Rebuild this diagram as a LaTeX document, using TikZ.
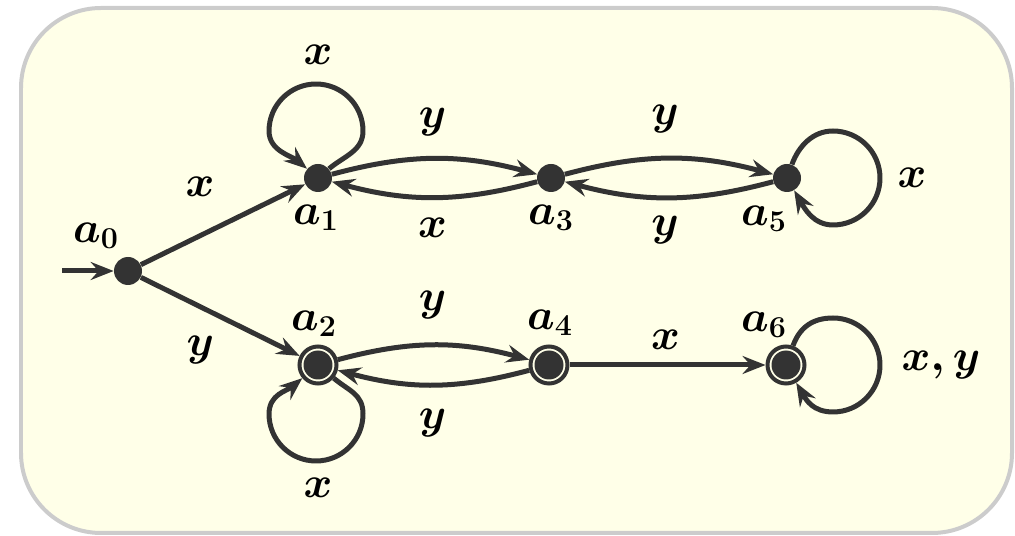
\documentclass[tikz,border=0pt]{standalone}
\usetikzlibrary{arrows.meta}
\definecolor{dk}{HTML}{333333}
\definecolor{bgfill}{HTML}{FFFFE8}
\definecolor{bgline}{HTML}{CCCCCC}
\begin{document}
\begin{tikzpicture}[x=0.02cm,y=-0.02cm,
  st/.style={circle, fill=dk, inner sep=0pt, minimum size=0.56cm},
  acc/.style={circle, draw=dk, fill=bgfill, line width=0.08cm, inner sep=0pt, minimum size=0.74cm,
    path picture={\fill[dk] (path picture bounding box.center) circle (0.29cm);}},
  lbl/.style={font=\fontsize{27}{32}\selectfont\boldmath, inner sep=0pt, text=black},
  tr/.style={draw=dk, line width=0.1cm, line join=round, -{Stealth[length=0.46cm,width=0.36cm,inset=0.16cm]}},
  neck/.style={out distance=0.4cm,in distance=0.4cm}
]
\useasboundingbox (0,0) rectangle (1015,536);
\draw[draw=bgline, fill=bgfill, line width=0.08cm, rounded corners=1.6cm] (21,8) rectangle (1012,533);

\node[st]  (a0) at (128,271) {};
\node[st]  (a1) at (318,178) {};
\node[st]  (a3) at (551,178) {};
\node[st]  (a5) at (787,178) {};
\node[acc] (a2) at (318,365) {};
\node[acc] (a4) at (549,365) {};
\node[acc] (a6) at (786,365) {};

% points where the self loops join their round part
\coordinate (r1) at (363,131);
\coordinate (r2) at (363,414);
\coordinate (u5) at (833,131);
\coordinate (u6) at (833,318);

\node[lbl] (l0) at ([shift={(-32,-35)}]a0.center) {$a_0$};
\node[lbl] (l1) at ([shift={(-2,40)}]a1.center) {$a_1$};
\node[lbl] (l3) at ([shift={(0,40)}]a3.center) {$a_3$};
\node[lbl] (l5) at ([shift={(-23,41)}]a5.center) {$a_5$};
\node[lbl] (l2) at ([shift={(-4,-41)}]a2.center) {$a_2$};
\node[lbl] (l4) at ([shift={(1,-42)}]a4.center) {$a_4$};
\node[lbl] (l6) at ([shift={(-22,-40)}]a6.center) {$a_6$};

\coordinate (s0) at (62,271);
\draw[tr] (s0) -- (a0);

\draw[tr] (a0) -- node[lbl,shift={(-23,-37.5)}] (e1) {$x$} (a1);
\draw[tr] (a0) -- node[lbl,shift={(-20,33.5)}] (e2) {$y$} (a2);

\draw[tr] (a1) to[bend left=15] node[lbl,shift={(-2,-37)}] (e3) {$y$} (a3);
\draw[tr] (a3) to[bend left=15] node[lbl,shift={(-2,31)}] (e4) {$x$} (a1);
\draw[tr] (a3) to[bend left=15] node[lbl,shift={(-4,-39)}] (e5) {$y$} (a5);
\draw[tr] (a5) to[bend left=15] node[lbl,shift={(-4,33)}] (e6) {$y$} (a3);

\draw[tr] (a2) to[bend left=15] node[lbl,shift={(-1,-40)}] (e7) {$y$} (a4);
\draw[tr] (a4) to[bend left=15] node[lbl,shift={(-1,38)}] (e8) {$y$} (a2);
\draw[tr] (a4) -- node[lbl,shift={(-2,-25)}] (e9) {$x$} (a6);

% self loops
\draw[tr] (a1.40) to[out=40,in=-90,neck] (r1)
   arc[start angle=0,end angle=90,radius=0.94cm] node[lbl,shift={(2,-29)}] (e10) {$x$}
   arc[start angle=90,end angle=180,radius=0.94cm] to[out=-90,in=140,neck] (a1.140);
\draw[tr] (a2.-40) to[out=-40,in=90,neck] (r2)
   arc[start angle=0,end angle=-90,radius=0.94cm] node[lbl,shift={(2,27)}] (e12) {$x$}
   arc[start angle=-90,end angle=-180,radius=0.94cm] to[out=-90+180,in=-140,neck] (a2.-140);
\draw[tr] (a5.70) to[out=70,in=180,neck] (u5)
   arc[start angle=90,end angle=0,radius=0.94cm] node[lbl,shift={(32,0)}] (e11) {$x$}
   arc[start angle=0,end angle=-90,radius=0.94cm] to[out=180,in=-60,neck] (a5.-60);
\draw[tr] (a6.70) to[out=70,in=180,neck] (u6)
   arc[start angle=90,end angle=0,radius=0.94cm] node[lbl,shift={(61,0)}] (e13) {$x, y$}
   arc[start angle=0,end angle=-90,radius=0.94cm] to[out=180,in=-60,neck] (a6.-60);
\end{tikzpicture}
\end{document}
